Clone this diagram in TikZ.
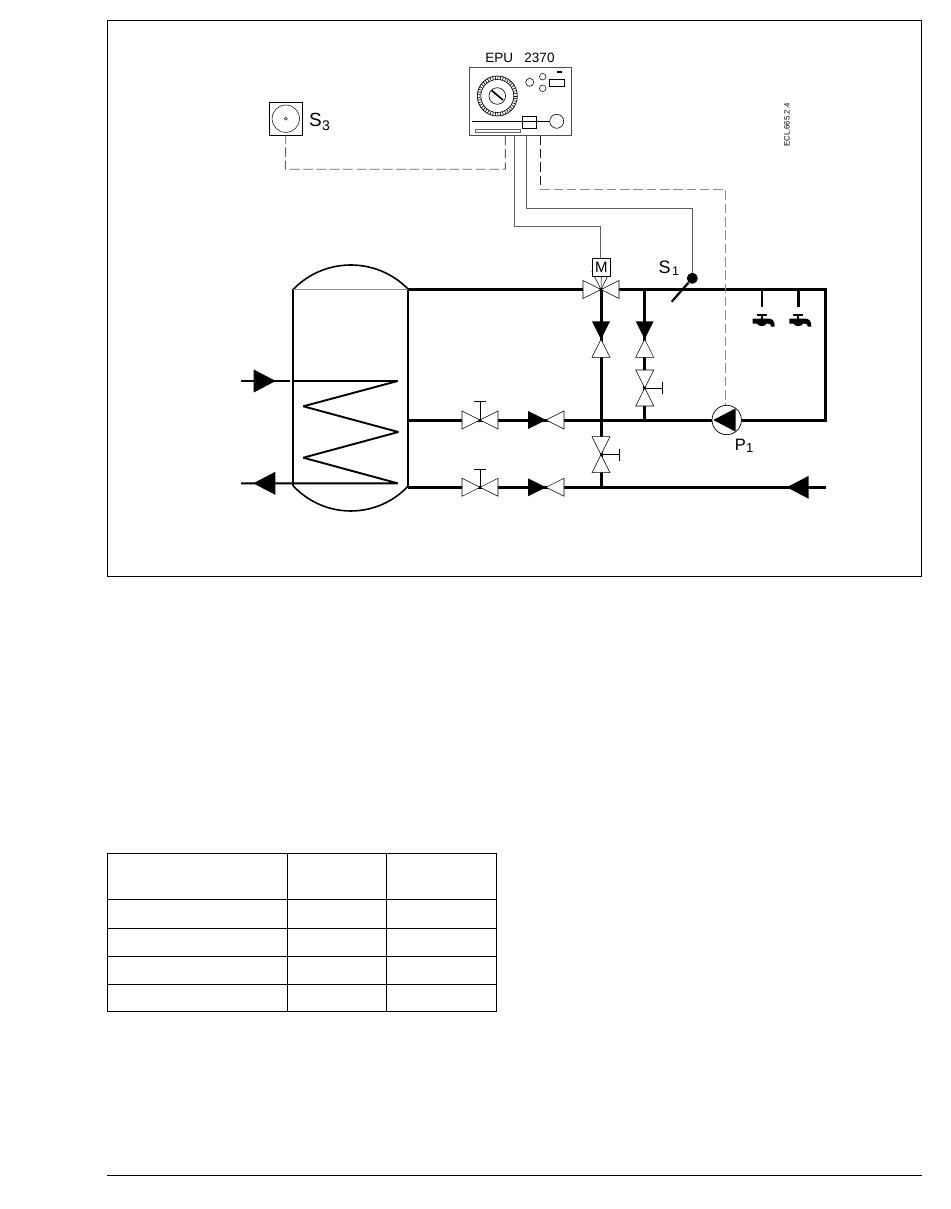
\documentclass[tikz,border=0pt]{standalone}
\usepackage{fontspec}
\setmainfont{Liberation Sans}
\begin{document}
\begin{tikzpicture}[x=1pt,y=-1pt,
  pipe/.style={line width=3pt},
  sig/.style={line width=.9pt,black!62},
  sigdash/.style={line width=.9pt,black!62,dash pattern=on 9.5pt off 3.8pt},
  sigdashk/.style={line width=.9pt,black!90,dash pattern=on 9.5pt off 3.8pt},
  frame/.style={line width=.8pt,black},
  lab/.style={inner sep=0pt},
  tri/.pic={\draw[line width=.55pt,fill=white] (0,0)--(18,-9)--(18,9)--cycle;},
  btri/.pic={\fill[black] (0,0)--(18,-9)--(18,9)--cycle;},
  arrowb/.pic={\fill[black] (0,0)--(22,-11.5)--(22,11.5)--cycle;},
  tap/.pic={
    \draw[line width=1.5pt] (-5,0)--(5,0);
    \draw[line width=2pt] (0,0)--(0,5);
    \fill[black] (-9,3.5)--(6,3.5) .. controls (11,3.5) and (13,6) .. (13,11.5) -- (9.5,11.5)
      .. controls (9.5,9) and (8,8.5) .. (5,8.5) .. controls (3,12) and (-3,12) .. (-5,8.5) -- (-9,8.5) -- cycle;
  }]
\useasboundingbox (0,0) rectangle (950,1209);
\fill[white] (0,0) rectangle (950,1209);
% frame
\node[draw,frame,outer sep=0pt,minimum width=814pt,minimum height=555.5pt,inner sep=0pt,anchor=north west] (frameA) at (107.5,20.5) {};
% table
\draw[frame] (107.5,853) rectangle (496.5,1011.5);
\foreach \y in {899,928,956,984}{\draw[frame] (107.5,\y)--(496.5,\y);}
\foreach \x in {287,386}{\draw[frame] (\x,853)--(\x,1011.5);}
\draw[frame] (107,1175.5)--(921.5,1175.5);
% named points
\coordinate (tl) at (408.3,289.5);
\coordinate (tm) at (408.3,420);
\coordinate (tb) at (408.3,487.3);
\coordinate (mix) at (601,289.5);
\coordinate (cr) at (825.7,289.5);
\coordinate (rr) at (825.7,420);
\coordinate (lr) at (826,487.3);
\coordinate (jb) at (601,487.3);
\coordinate (bt) at (644.7,289.5);
\coordinate (bb) at (644.7,420);
\coordinate (t1) at (761.7,289.5);
\coordinate (t1b) at (761.7,307.3);
\coordinate (t2) at (798.3,289.5);
\coordinate (t2b) at (798.3,307.3);
% pipes
\draw[pipe,line join=miter] (tl)--(cr)--(rr)--(tm);
\draw[pipe] (tb)--(lr);
\draw[pipe] (mix)--(jb);
\draw[pipe] (bt)--(bb);
\draw[pipe,line width=2.4pt] (t1)--(t1b);
\draw[pipe,line width=2.4pt] (t2)--(t2b);
% tank
\draw[line width=1.8pt] (293.3,289.3)--(293.3,486);
\draw[line width=2pt] (408.3,289.3)--(408.3,487.3);
\draw[line width=1.6pt] (293.3,289.3) .. controls (324.8,256.9) and (376.8,256.9) .. (408.3,289.3);
\draw[line width=1.6pt] (293.3,486) .. controls (324.8,519.3) and (376.8,519.3) .. (408.3,486);
\draw[line width=1pt,black!45] (293.3,289.3)--(408.3,289.3);
% coil
\draw[line width=1.9pt,line join=bevel] (293.3,381)--(397.7,381)--(303.3,406.3)--(398.3,432)--(303.3,457.7)--(397.7,483.3)--(241,483.3);
\draw[line width=1.9pt] (241,381)--(290,381);
\pic[rotate=180] at (275.7,381) {arrowb};
\pic at (253.3,483.3) {arrowb};
\pic at (786.7,487.3) {arrowb};
% horizontal valves
\foreach \y/\t in {420/401.7,487.3/469.3}{
  \pic[rotate=180] at (480,\y) {tri};
  \pic at (480,\y) {tri};
  \draw[line width=1pt] (480,\y)--(480,\t);
  \draw[line width=1pt] (474,\t)--(485.7,\t);
  \pic[rotate=180] at (546,\y) {btri};
  \pic at (546,\y) {tri};
}
% mixing valve
\pic[rotate=180] at (mix) {tri};
\pic at (mix) {tri};
\pic[rotate=90] at (mix) {tri};
% vertical valves on mix line
\pic[rotate=90] at (601,339.3) {btri};
\pic[rotate=-90] at (601,339.3) {tri};
\pic[rotate=90] at (601,454.7) {tri};
\pic[rotate=-90] at (601,454.7) {tri};
\draw[line width=1pt] (601,454.7)--(619.3,454.7);
\draw[line width=1pt] (619.3,449)--(619.3,460.7);
% branch valves
\pic[rotate=90] at (644.7,339.3) {btri};
\pic[rotate=-90] at (644.7,339.3) {tri};
\pic[rotate=90] at (644.7,388) {tri};
\pic[rotate=-90] at (644.7,388) {tri};
\draw[line width=1pt] (644.7,388)--(662.7,388);
\draw[line width=1pt] (662.7,382.3)--(662.7,394);
% pump
\node[circle,draw,line width=.7pt,fill=white,minimum size=29.4pt,inner sep=0pt] (pump) at (726.7,420) {};
\fill[black] (713.3,420)--(735.7,408.3)--(735.7,431.7)--cycle;
% taps
\pic at (761.7,315) {tap};
\pic at (798.3,315) {tap};
% motor
\node[draw,line width=.6pt,fill=white,minimum width=17.5pt,minimum height=17.5pt,inner sep=0pt,font=\fontsize{15}{15}\selectfont] (motor) at (601.3,267.2) {M};
\draw[line width=.5pt] (motor.south)--(mix);
% S1 sensor
\node[circle,fill=black,minimum size=11pt,inner sep=0pt] (s1) at (692.3,278.3) {};
\coordinate (s1end) at (671.7,301.7);
\draw[line width=2.2pt] (s1)--(s1end);
% controller
\node[draw,line width=1.2pt,black!70,outer sep=0pt,minimum width=102pt,minimum height=68.4pt,inner sep=0pt,anchor=north west] (epu) at (469.3,67.3) {};
\coordinate (dial) at (497.3,96);
\draw[line width=.7pt] (dial) circle (20);
\draw[line width=.6pt] (dial) circle (16.5);
\foreach \a in {0,8,...,352}{\draw[line width=.6pt] (dial)++(\a:16.5)--++(\a:3.5);}
\draw[line width=.6pt] (dial) circle (8.3);
\draw[line width=1.6pt] (491.7,90.5)--(503,100);
\draw[line width=.6pt] (529.7,82.3) circle (4);
\draw[line width=.5pt] (542.7,76.7) circle (3.3);
\draw[line width=.5pt] (542.7,88.3) circle (3.3);
\draw[line width=.6pt] (549.3,79) rectangle (564.7,86);
\fill[black] (556.5,70.8) rectangle (562,72.6);
\draw[line width=1pt] (472,121.3)--(550,121.3);
\draw[line width=.6pt] (556.7,121.3) circle (7);
\draw[line width=.5pt] (522,116.3) rectangle (536.7,128.3);
\draw[line width=.5pt,black!60] (475.3,129) rectangle (520,132);
\coordinate (e1) at (505.3,135.7);
\coordinate (e2) at (514.7,135.7);
\coordinate (e3) at (526.7,135.7);
\coordinate (e4) at (540.3,135.7);
% S3 sensor
\node[draw,line width=.7pt,minimum width=33pt,minimum height=33pt,inner sep=0pt] (s3) at (285.8,118.7) {};
\draw[line width=.5pt] (s3.center) circle (13.7);
\draw[line width=.5pt] (s3.center) circle (1.5);
% signal lines
\draw[sigdash] (e1)--(505.3,169.3)--(285.3,169.3)--(s3.south);
\draw[sig] (e2)--(514.7,226)--(600.7,226)--(motor.north -| 600.7,0);
\draw[sig] (e3)--(526.7,208)--(692.3,208)--(s1);
\draw[sigdashk] (e4)--(540.3,189);
\draw[sigdash,black!45] (540.3,189)--(725,189)--(pump.north -| 725,0);
% labels
\node[lab,font=\fontsize{13.5}{13.5}\selectfont] (tEPU) at (520,57.7) {EPU\ \ \ 2370};
\node[lab,font=\fontsize{19}{19}\selectfont] (tS3) at (315.5,119.7) {S};
\node[lab,font=\fontsize{14}{14}\selectfont] (tS3n) at (326,126) {3};
\node[lab,font=\fontsize{18}{18}\selectfont] (tS1) at (664.5,267) {S};
\node[lab,font=\fontsize{12.5}{12.5}\selectfont] (tS1n) at (675.5,271.5) {1};
\node[lab,font=\fontsize{16.5}{16.5}\selectfont] (tP1) at (740.3,444.5) {P};
\node[lab,font=\fontsize{13}{13}\selectfont] (tP1n) at (749.7,448) {1};
\node[inner sep=0pt,rotate=90,font=\fontsize{7.8}{7.8}\selectfont] (tECL) at (787,125) {ECL.665.2.4};
\end{tikzpicture}
\end{document}
